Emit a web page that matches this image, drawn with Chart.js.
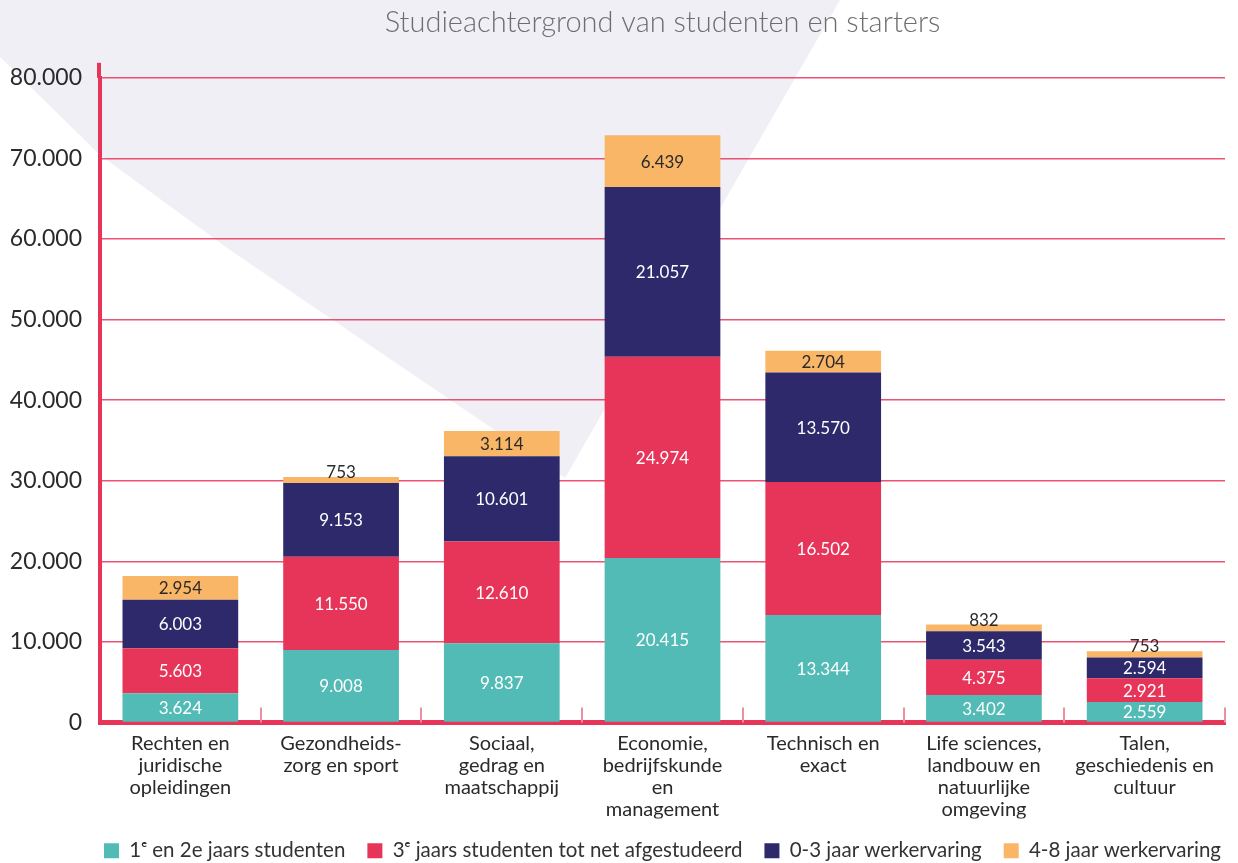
<!DOCTYPE html>
<html>
<head>
<meta charset="utf-8">
<script src="https://cdn.jsdelivr.net/npm/chart.js@4"></script>
<style>
  html, body { margin: 0; padding: 0; background: #ffffff; }
  #wrap { width: 1238px; height: 863px; position: relative; }
</style>
</head>
<body>
<div id="wrap"><canvas id="chart"></canvas></div>
<script>
const categories = [
  ['Rechten en', 'juridische', 'opleidingen'],
  ['Gezondheids-', 'zorg en sport'],
  ['Sociaal,', 'gedrag en', 'maatschappij'],
  ['Economie,', 'bedrijfskunde', 'en', 'management'],
  ['Technisch en', 'exact'],
  ['Life sciences,', 'landbouw en', 'natuurlijke', 'omgeving'],
  ['Talen,', 'geschiedenis en', 'cultuur']
];
const seriesNames = [
  '1ᵉ en 2e jaars studenten',
  '3ᵉ jaars studenten tot net afgestudeerd',
  '0-3 jaar werkervaring',
  '4-8 jaar werkervaring'
];
const jaar12 = [3624, 9008, 9837, 20415, 13344, 3402, 2559];
const jaar3 = [5603, 11550, 12610, 24974, 16502, 4375, 2921];
const werk03 = [6003, 9153, 10601, 21057, 13570, 3543, 2594];
const werk48 = [2954, 753, 3114, 6439, 2704, 832, 753];
const yTicks = [0, 10000, 20000, 30000, 40000, 50000, 60000, 70000, 80000];

const colors = ['#52bbb5', '#e7355a', '#2e296b', '#f9b666'];
const red = '#e7355a';
const font = 'Lato, "Noto Sans", sans-serif';

function fmt(n) {
  return String(n).replace(/\B(?=(\d{3})+(?!\d))/g, '.');
}

// lichte achtergrondvorm
const backdrop = {
  id: 'backdrop',
  beforeDraw(chart) {
    const ctx = chart.ctx;
    ctx.save();
    ctx.fillStyle = '#f0eff6';
    ctx.beginPath();
    ctx.moveTo(0, 0);
    ctx.lineTo(840, 0);
    ctx.lineTo(565, 478);
    ctx.lineTo(230, 250);
    ctx.lineTo(100, 155);
    ctx.lineTo(0, 57);
    ctx.closePath();
    ctx.fill();
    ctx.restore();
  }
};

// legenda iets naar rechts, zoals in het origineel
const legendShift = {
  id: 'legendShift',
  afterLayout(chart) {
    chart.legend.left += 50;
    chart.legend.right += 50;
  }
};

// streepjes op de x-as en verlengde y-as
const axisMarks = {
  id: 'axisMarks',
  afterDraw(chart) {
    const ctx = chart.ctx;
    const x = chart.scales.x;
    const area = chart.chartArea;
    ctx.save();
    ctx.strokeStyle = '#ef8ea2';
    ctx.lineWidth = 2;
    for (let i = 1; i <= categories.length; i++) {
      const px = Math.round(x.getPixelForValue(i - 0.5));
      ctx.beginPath();
      ctx.moveTo(px, area.bottom);
      ctx.lineTo(px, area.bottom - 15);
      ctx.stroke();
    }
    ctx.strokeStyle = red;
    ctx.lineWidth = 4;
    ctx.beginPath();
    ctx.moveTo(area.left - 1, area.top);
    ctx.lineTo(area.left - 1, area.top - 15);
    ctx.stroke();
    ctx.restore();
  }
};

// waarden in de balken
const barLabels = {
  id: 'barLabels',
  afterDatasetsDraw(chart) {
    const ctx = chart.ctx;
    ctx.save();
    ctx.font = '17px ' + font;
    ctx.textAlign = 'center';
    chart.data.datasets.forEach((ds, i) => {
      chart.getDatasetMeta(i).data.forEach((bar, j) => {
        const h = bar.base - bar.y;
        ctx.fillStyle = i === 3 ? '#2a2a2a' : '#ffffff';
        if (h < 16) {
          ctx.textBaseline = 'bottom';
          ctx.fillText(fmt(ds.data[j]), bar.x, bar.y + 4);
        } else {
          ctx.textBaseline = 'middle';
          ctx.fillText(fmt(ds.data[j]), bar.x, (bar.y + bar.base) / 2 + 1);
        }
      });
    });
    ctx.restore();
  }
};

const allSeries = [jaar12, jaar3, werk03, werk48];

new Chart(document.getElementById('chart'), {
  type: 'bar',
  data: {
    labels: categories,
    datasets: allSeries.map((d, i) => ({
      label: seriesNames[i],
      data: d,
      backgroundColor: colors[i],
      borderWidth: 0,
      barPercentage: 0.72,
      categoryPercentage: 1
    }))
  },
  options: {
    responsive: true,
    maintainAspectRatio: false,
    animation: false,
    layout: { padding: { top: 0, right: 13, bottom: -8, left: 0 } },
    plugins: {
      title: {
        display: true,
        fullSize: false,
        text: 'Studieachtergrond van studenten en starters',
        color: '#6e6e6e',
        font: { family: font, size: 29, weight: 300 },
        padding: { top: 5, bottom: 38 }
      },
      legend: {
        position: 'bottom',
        labels: {
          color: '#333333',
          font: { family: font, size: 20.5 },
          boxWidth: 15,
          boxHeight: 15,
          padding: 22
        }
      },
      tooltip: { enabled: false }
    },
    scales: {
      x: {
        stacked: true,
        afterFit(scale) { scale.height = 96; },
        grid: { display: false, drawTicks: false },
        border: { display: true, color: red, width: 5 },
        ticks: {
          color: '#2a2a2a',
          padding: 10,
          maxRotation: 0,
          autoSkip: false,
          font: { family: font, size: 20, lineHeight: '22px' }
        }
      },
      y: {
        stacked: true,
        min: 0,
        max: 80000,
        afterFit(scale) { scale.width = 100; },
        afterBuildTicks(scale) { scale.ticks = yTicks.map(v => ({ value: v })); },
        grid: { color: 'rgba(231,53,90,0.85)', lineWidth: 1.5, drawTicks: false },
        border: { display: true, color: red, width: 4 },
        ticks: {
          color: '#2a2a2a',
          padding: 18,
          font: { family: font, size: 23 },
          callback: v => fmt(v)
        }
      }
    }
  },
  plugins: [backdrop, legendShift, axisMarks, barLabels]
});
</script>
</body>
</html>
